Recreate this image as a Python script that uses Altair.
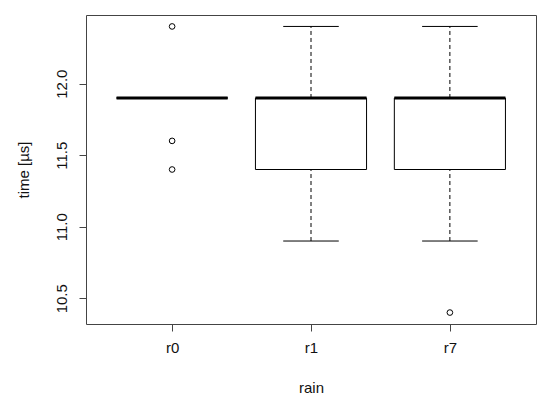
import altair as alt
import pandas as pd

groups = ["r0", "r1", "r7"]
q1 = [11.9, 11.4, 11.4]
median = [11.9, 11.9, 11.9]
q3 = [11.9, 11.9, 11.9]
whisk_lo = [11.9, 10.9, 10.9]
whisk_hi = [11.9, 12.4, 12.4]
out_group = ["r0", "r0", "r0", "r7"]
out_value = [12.4, 11.6, 11.4, 10.4]

pos = {g: i + 1 for i, g in enumerate(groups)}
box = pd.DataFrame({
    "g": groups,
    "p": [pos[g] for g in groups],
    "q1": q1, "med": median, "q3": q3, "lo": whisk_lo, "hi": whisk_hi,
})
box["bl"] = box["p"] - 0.4
box["br"] = box["p"] + 0.4
box["cl"] = box["p"] - 0.2
box["cr"] = box["p"] + 0.2
outl = pd.DataFrame({"p": [pos[g] for g in out_group], "v": out_value})

FONT = "Liberation Sans"
FS = 15
xs = alt.Scale(domain=[0.38, 3.62], nice=False, zero=False)
ys = alt.Scale(domain=[10.32, 12.48], nice=False, zero=False)

xaxis = alt.Axis(values=[1, 2, 3], labelExpr="['r0','r1','r7'][datum.value-1]",
                 title="rain", domain=False, grid=False, tickSize=7, tickColor="#444",
                 labelPadding=9, labelFontSize=FS, labelColor="#111", labelFont=FONT,
                 titleFont=FONT, titleFontSize=FS, titleFontWeight="normal", titleColor="#111",
                 titleY=63, titleBaseline="middle")
yaxis = alt.Axis(values=[10.5, 11.0, 11.5, 12.0], format=".1f", title="time [µs]",
                 domain=False, grid=False, tickSize=7, tickColor="#444",
                 labelAngle=-90, labelAlign="center", labelBaseline="bottom", labelPadding=10,
                 labelFontSize=FS, labelColor="#111", labelFont=FONT,
                 titleFont=FONT, titleFontSize=FS, titleFontWeight="normal", titleColor="#111",
                 titleX=-63, titleAngle=-90, titleBaseline="middle")

base = alt.Chart(box)

whisk_up = base.mark_rule(color="black", strokeDash=[4, 3], strokeWidth=1).encode(
    x=alt.X("p:Q", scale=xs, axis=xaxis), y=alt.Y("q3:Q", scale=ys, axis=yaxis), y2="hi:Q")
whisk_dn = base.mark_rule(color="black", strokeDash=[4, 3], strokeWidth=1).encode(
    x=alt.X("p:Q", scale=xs), y=alt.Y("lo:Q", scale=ys), y2="q1:Q")
cap_hi = base.mark_rule(color="black", strokeWidth=1).encode(
    x=alt.X("cl:Q", scale=xs), x2="cr:Q", y=alt.Y("hi:Q", scale=ys))
cap_lo = base.mark_rule(color="black", strokeWidth=1).encode(
    x=alt.X("cl:Q", scale=xs), x2="cr:Q", y=alt.Y("lo:Q", scale=ys))
rect = base.mark_rect(fill="white", stroke="black", strokeWidth=1).encode(
    x=alt.X("bl:Q", scale=xs), x2="br:Q", y=alt.Y("q1:Q", scale=ys), y2="q3:Q")
med = base.mark_rule(color="black", strokeWidth=3).encode(
    x=alt.X("bl:Q", scale=xs), x2="br:Q", y=alt.Y("med:Q", scale=ys))
pts = alt.Chart(outl).mark_point(shape="circle", filled=False, color="black",
                                 strokeWidth=1, size=32, opacity=1).encode(
    x=alt.X("p:Q", scale=xs), y=alt.Y("v:Q", scale=ys))

chart = alt.layer(whisk_up, whisk_dn, cap_hi, cap_lo, rect, med, pts).properties(
    width=450, height=309,
    autosize=alt.AutoSizeParams(type="none"),
    padding={"left": 78, "top": 7, "right": 6, "bottom": 74},
    background="white",
).configure_view(stroke="#444", strokeWidth=1)

chart.save("out.html", embed_options={"renderer": "svg", "actions": False})
